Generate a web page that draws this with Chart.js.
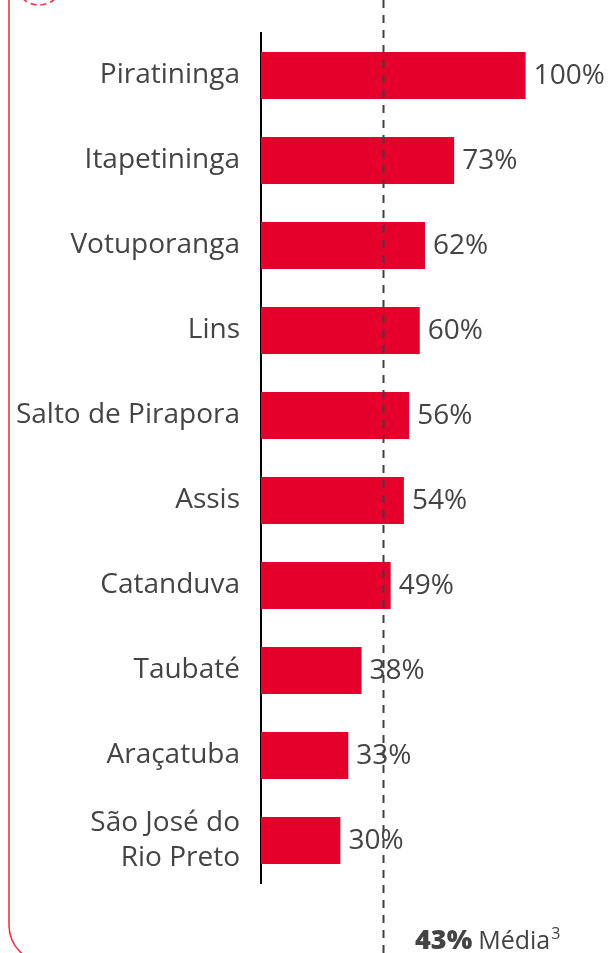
<!DOCTYPE html>
<html>
<head>
<meta charset="utf-8">
<script src="https://cdn.jsdelivr.net/npm/chart.js@4"></script>
<style>
  html, body { margin: 0; padding: 0; background: #fff; }
  #wrap { width: 613px; height: 953px; position: relative; }
</style>
</head>
<body>
<div id="wrap"><canvas id="chart"></canvas></div>
<script>
var cities = ['Piratininga', 'Itapetininga', 'Votuporanga', 'Lins', 'Salto de Pirapora',
    'Assis', 'Catanduva', 'Taubaté', 'Araçatuba', ['São José do', 'Rio Preto']];
var shares = [100, 73, 62, 60, 56, 54, 49, 38, 33, 30];
var meanValue = 43;
var meanLinePos = 46; // where the dashed line sits in the picture
var meanText = 'Média';

var textColor = '#444444';
var barColor = '#e4002b';
var frameColor = '#e8394a';
var fontFamily = '"Open Sans", "Noto Sans", sans-serif';

var extrasPlugin = {
    id: 'extras',
    beforeDraw: function (chart) {
        var ctx = chart.ctx;
        ctx.save();
        // red frame on the left
        ctx.strokeStyle = frameColor;
        ctx.lineWidth = 1.6;
        ctx.beginPath();
        ctx.moveTo(9, 0);
        ctx.lineTo(9, 925);
        ctx.arcTo(9, 963, 47, 963, 38);
        ctx.stroke();
        // dashed circle at the top
        ctx.setLineDash([6, 4]);
        ctx.beginPath();
        ctx.arc(39, -19, 24, 0, Math.PI);
        ctx.stroke();
        ctx.restore();
    },
    afterDatasetsDraw: function (chart) {
        var ctx = chart.ctx;
        var xs = chart.scales.x;
        var meta = chart.getDatasetMeta(0);
        ctx.save();
        // mean line
        var mx = Math.round(xs.getPixelForValue(meanLinePos)) + 0.5;
        ctx.strokeStyle = '#404040';
        ctx.lineWidth = 2;
        ctx.setLineDash([8, 7]);
        ctx.beginPath();
        ctx.moveTo(mx, 0);
        ctx.lineTo(mx, chart.height);
        ctx.stroke();
        ctx.setLineDash([]);
        // value labels
        ctx.fillStyle = textColor;
        ctx.font = '28px ' + fontFamily;
        ctx.textBaseline = 'middle';
        ctx.textAlign = 'left';
        meta.data.forEach(function (bar, i) {
            ctx.fillText(shares[i] + '%', bar.x + 8, bar.y + 1);
        });
        // mean caption
        var x0 = 415, y0 = 949;
        ctx.font = '800 27px ' + fontFamily;
        ctx.textBaseline = 'alphabetic';
        var t1 = meanValue + '%';
        ctx.fillText(t1, x0, y0);
        x0 += ctx.measureText(t1).width + 6;
        ctx.font = '25px ' + fontFamily;
        ctx.fillText(meanText, x0, y0);
        x0 += ctx.measureText(meanText).width + 1;
        ctx.font = '16px ' + fontFamily;
        ctx.fillText('3', x0, y0 - 10);
        ctx.restore();
    }
};

new Chart(document.getElementById('chart'), {
    type: 'bar',
    data: {
        labels: cities,
        datasets: [{
            data: shares,
            backgroundColor: barColor,
            borderWidth: 0,
            categoryPercentage: 1,
            barPercentage: 0.553
        }]
    },
    options: {
        indexAxis: 'y',
        responsive: true,
        maintainAspectRatio: false,
        animation: false,
        layout: { padding: { top: 33, bottom: 70, left: 0, right: 8 } },
        plugins: {
            legend: { display: false },
            tooltip: { enabled: false }
        },
        scales: {
            x: {
                display: false,
                min: 0,
                max: 130
            },
            y: {
                grid: { display: false, drawTicks: false },
                border: { display: true, color: '#000', width: 2 },
                ticks: {
                    color: textColor,
                    font: { family: fontFamily, size: 28, lineHeight: 1.22 },
                    padding: 21
                },
                afterFit: function (scale) {
                    scale.width = 261;
                    scale.paddingTop = 0;
                    scale.paddingBottom = 0;
                }
            }
        }
    },
    plugins: [extrasPlugin]
});
</script>
</body>
</html>
